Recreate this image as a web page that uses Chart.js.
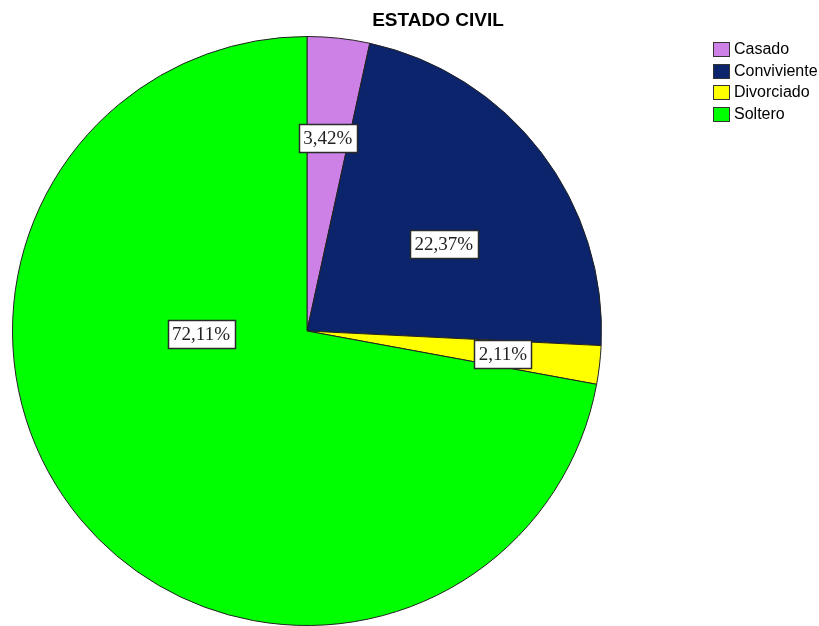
<!DOCTYPE html>
<html>
<head>
<meta charset="utf-8">
<script src="https://cdn.jsdelivr.net/npm/chart.js@4"></script>
<style>
  html, body { margin: 0; padding: 0; background: #fff; }
  #wrap { width: 819px; height: 626px; position: relative; }
</style>
</head>
<body>
<div id="wrap"><canvas id="myChart" width="819" height="626"></canvas></div>
<script>
var categorias = ['Casado', 'Conviviente', 'Divorciado', 'Soltero'];
var porcentajes = [3.42, 22.37, 2.11, 72.11];
var etiquetas = ['3,42%', '22,37%', '2,11%', '72,11%'];
var colores = ['#cd80e6', '#0b246b', '#ffff00', '#00ff00'];

// label placement: [angle shift in degrees, fraction of radius]
var posEtiqueta = [[0, 0.66], [5, 0.55], [0, 0.67], [38, 0.36]];

var etiquetasPlugin = {
  id: 'etiquetas',
  afterDatasetsDraw: function(chart) {
    var ctx = chart.ctx;
    var arcs = chart.getDatasetMeta(0).data;
    ctx.save();
    ctx.font = '19px "Liberation Serif"';
    ctx.textAlign = 'center';
    ctx.textBaseline = 'middle';
    arcs.forEach(function(arc, i) {
      var a = (arc.startAngle + arc.endAngle) / 2 + posEtiqueta[i][0] * Math.PI / 180;
      var r = arc.outerRadius * posEtiqueta[i][1];
      var x = arc.x + Math.cos(a) * r;
      var y = arc.y + Math.sin(a) * r;
      var w = Math.round(ctx.measureText(etiquetas[i]).width + 9);
      var h = 28;
      var bx = Math.round(x - w / 2) + 0.5;
      var by = Math.round(y - h / 2) + 0.5;
      ctx.fillStyle = '#ffffff';
      ctx.fillRect(bx, by, w, h);
      ctx.strokeStyle = '#2a2a2a';
      ctx.lineWidth = 1.5;
      ctx.strokeRect(bx, by, w, h);
      ctx.fillStyle = '#222222';
      ctx.fillText(etiquetas[i], x, y + 1);
    });
    ctx.restore();
  },
  afterDraw: function(chart) {
    var ctx = chart.ctx;
    ctx.save();
    // title
    ctx.font = 'bold 19px "Liberation Sans"';
    ctx.fillStyle = '#000';
    ctx.textAlign = 'center';
    ctx.textBaseline = 'middle';
    ctx.fillText('ESTADO CIVIL', 438, 21);
    // legend
    ctx.font = '16px "Liberation Sans"';
    ctx.textAlign = 'left';
    categorias.forEach(function(c, i) {
      var y = 49 + i * 21.5;
      ctx.fillStyle = colores[i];
      ctx.fillRect(713.5, Math.round(y - 7) + 0.5, 16, 14);
      ctx.strokeStyle = '#333';
      ctx.lineWidth = 1;
      ctx.strokeRect(713.5, Math.round(y - 7) + 0.5, 16, 14);
      ctx.fillStyle = '#000';
      ctx.fillText(c, 734, y + 1);
    });
    ctx.restore();
  }
};

var ctx = document.getElementById('myChart').getContext('2d');
var myChart = new Chart(ctx, {
  type: 'pie',
  data: {
    labels: categorias,
    datasets: [{
      data: porcentajes,
      backgroundColor: colores,
      borderColor: '#222222',
      borderWidth: 1
    }]
  },
  options: {
    responsive: false,
    animation: false,
    layout: { padding: { left: 12, right: 217, top: 36, bottom: 0 } },
    plugins: {
      legend: { display: false },
      title: { display: false },
      tooltip: { enabled: false }
    }
  },
  plugins: [etiquetasPlugin]
});
</script>
</body>
</html>
